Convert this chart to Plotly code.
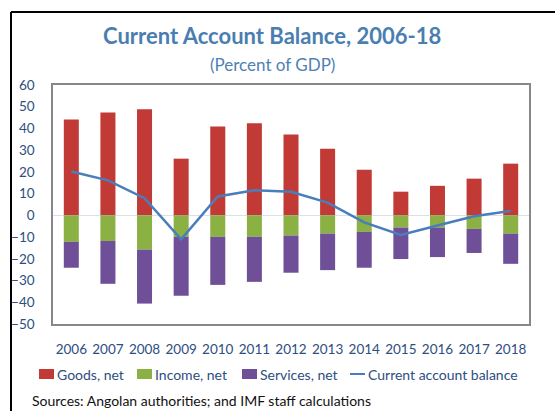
import plotly.graph_objects as go

# Angola current account components, percent of GDP
years = ["2006", "2007", "2008", "2009", "2010", "2011", "2012",
         "2013", "2014", "2015", "2016", "2017", "2018"]
goods_net = [44.1, 47.4, 48.8, 26.1, 40.9, 42.4, 37.2, 30.7, 21.0, 10.9, 13.6, 16.9, 23.8]
income_net = [-12.2, -11.8, -15.8, -9.9, -9.9, -9.9, -9.3, -8.4, -7.6, -5.6, -5.6, -6.2, -8.4]
services_net = [-11.9, -19.7, -24.8, -27.1, -22.1, -20.7, -17.1, -16.8, -16.5, -14.5, -13.6, -11.1, -13.9]
current_account = [20.2, 16.1, 7.9, -11.0, 8.7, 11.6, 10.9, 5.9, -3.2, -9.0, -4.7, -0.4, 2.1]

series_names = ["Goods, net", "Income, net", "Services, net", "Current account balance"]
y_ticks = list(range(-50, 70, 10))

W, H = 555, 411
M_L, M_R, M_T, M_B = 53, 26, 85, 87
FONT = "Lato"
TEXT_BLUE = "#2d4e80"
RED, GREEN, PURPLE, LINE_BLUE = "#c23a36", "#8bb044", "#6f4f97", "#4a7ebb"


def px_x(px):
    return (px - M_L) / (W - M_L - M_R)


def px_y(py):
    return (H - M_B - py) / (H - M_T - M_B)


fig = go.Figure()
for name, vals, color in [(series_names[0], goods_net, RED),
                          (series_names[1], income_net, GREEN),
                          (series_names[2], services_net, PURPLE)]:
    fig.add_trace(go.Bar(x=years, y=vals, name=name, marker_color=color,
                         marker_line_width=0, showlegend=False))

fig.add_trace(go.Scatter(x=years, y=current_account, name=series_names[3],
                         mode="lines", line=dict(color=LINE_BLUE, width=2.5),
                         showlegend=False))

# Hand-built legend row beneath the axis
legend_y = px_y(374)
swatches = [(39, RED, series_names[0]), (137, GREEN, series_names[1]),
            (242, PURPLE, series_names[2])]
for x0, color, label in swatches:
    fig.add_shape(type="rect", xref="paper", yref="paper",
                  x0=px_x(x0), x1=px_x(x0 + 15), y0=px_y(379), y1=px_y(369),
                  fillcolor=color, line_width=0)
    fig.add_annotation(x=px_x(x0 + 16), y=legend_y, xref="paper", yref="paper",
                       text=label, showarrow=False, xanchor="left", yanchor="middle",
                       font=dict(family=FONT, size=14, color=TEXT_BLUE))
fig.add_shape(type="line", xref="paper", yref="paper",
              x0=px_x(350), x1=px_x(365), y0=legend_y, y1=legend_y,
              line=dict(color=LINE_BLUE, width=2))
fig.add_annotation(x=px_x(366), y=legend_y, xref="paper", yref="paper",
                   text=series_names[3], showarrow=False, xanchor="left", yanchor="middle",
                   font=dict(family=FONT, size=14, color=TEXT_BLUE))

# Titles and source note
fig.add_annotation(x=px_x(272), y=px_y(35), xref="paper", yref="paper",
                   text="<b>Current Account Balance, 2006-18</b>", showarrow=False,
                   xanchor="center", yanchor="middle",
                   font=dict(family=FONT, size=22, color="#4a7eb0"))
fig.add_annotation(x=px_x(272), y=px_y(64), xref="paper", yref="paper",
                   text="(Percent of GDP)", showarrow=False,
                   xanchor="center", yanchor="middle",
                   font=dict(family=FONT, size=17, color="#4f80b5"))
fig.add_annotation(x=px_x(30), y=px_y(400), xref="paper", yref="paper",
                   text="Sources: Angolan authorities; and IMF staff calculations",
                   showarrow=False, xanchor="left", yanchor="middle",
                   font=dict(family=FONT, size=14, color="#111111"))

# Outer frame (left and top edges)
fig.add_shape(type="line", xref="paper", yref="paper",
              x0=px_x(11), x1=px_x(11), y0=px_y(12), y1=px_y(420),
              line=dict(color="#000000", width=2))
fig.add_shape(type="line", xref="paper", yref="paper",
              x0=px_x(11), x1=px_x(570), y0=px_y(12), y1=px_y(12),
              line=dict(color="#000000", width=2))

fig.update_layout(
    width=W, height=H,
    margin=dict(l=M_L, r=M_R, t=M_T, b=M_B),
    paper_bgcolor="white", plot_bgcolor="white",
    barmode="relative", bargap=0.59,
    font=dict(family=FONT, color=TEXT_BLUE),
    xaxis=dict(showgrid=False, zeroline=False, showline=True, mirror=True,
               linecolor="#888888", linewidth=1.5, ticks="",
               tickfont=dict(size=13.5, color=TEXT_BLUE), ticklabelstandoff=12),
    yaxis=dict(range=[-50, 60], tickvals=y_ticks, showgrid=False,
               zeroline=True, zerolinecolor="#d6e1ec", zerolinewidth=1,
               showline=True, mirror=True, linecolor="#888888", linewidth=1.5,
               ticks="", tickfont=dict(size=13.5, color=TEXT_BLUE),
               ticklabelstandoff=14),
)

fig.write_html("out.html")
